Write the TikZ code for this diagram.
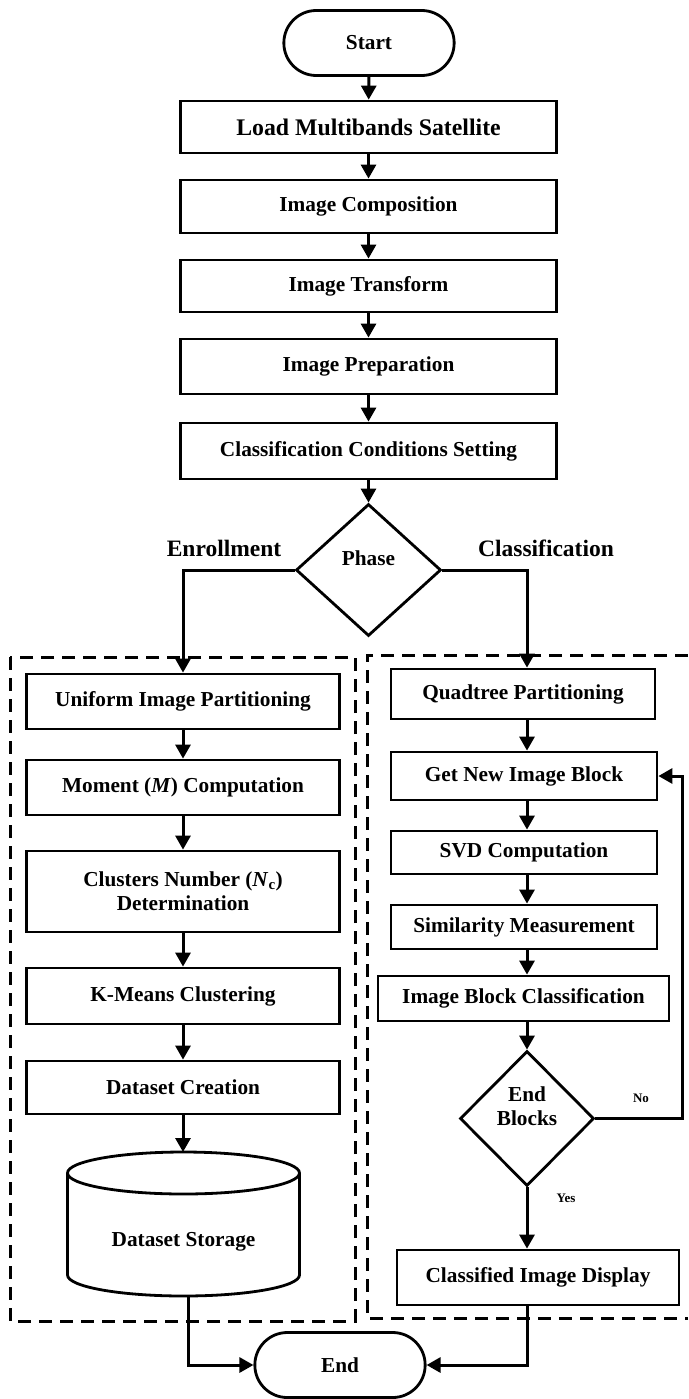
\documentclass[tikz,border=0pt]{standalone}
\usepackage{fontspec}
\setmainfont{Liberation Serif}
\usetikzlibrary{arrows.meta,shapes.geometric,shapes.misc}
\begin{document}
\begin{tikzpicture}[x=1pt,y=1pt,
  txt/.style={font=\bfseries\fontsize{21.3}{24}\selectfont, align=center},
  box/.style={txt, draw, line width=2.8pt, inner sep=2pt},
  term/.style={txt, draw, rounded rectangle, line width=2.8pt, minimum width=177pt, minimum height=65pt},
  dec/.style={draw, diamond, line width=2.8pt, inner sep=0pt},
  arr/.style={line width=3pt, -{Triangle[length=14pt,width=15pt]}},
  ln/.style={line width=3pt},
  dbox/.style={line width=3pt, dash pattern=on 13pt off 8pt},
  lbl/.style={font=\bfseries\fontsize{23.5}{26}\selectfont},
  sm/.style={font=\bfseries\fontsize{13}{15}\selectfont}]
\useasboundingbox (0,0) rectangle (688,-1399);

% dashed group frames
\draw[dbox] (10,-657) rectangle (355,-1321);
\draw[dbox] (688,-655) -- (367,-655) -- (367,-1318) -- (688,-1318);

% main chain
\node[term] (start) at (369,-43) {Start};
\node[box, minimum width=376pt, minimum height=52pt, font=\bfseries\fontsize{23.8}{26}\selectfont] (load) at (368.5,-127) {Load Multibands Satellite};
\node[box, minimum width=376pt, minimum height=53pt] (ic) at (368.5,-206.5) {Image Composition};
\node[box, minimum width=376pt, minimum height=52pt] (it) at (368.5,-286) {Image Transform};
\node[box, minimum width=376pt, minimum height=55pt] (ip) at (368.5,-366.5) {Image Preparation};
\node[box, minimum width=376pt, minimum height=56pt] (ccs) at (368.5,-451) {Classification Conditions Setting};
\node[dec, minimum width=145pt, minimum height=132pt] (phase) at (368.5,-570) {};
\node[txt] (phaset) at (368.5,-558) {Phase};
\node[lbl] (enr) at (224,-548) {Enrollment};
\node[lbl] (cls) at (546,-548) {Classification};

% enrollment column
\node[box, minimum width=313pt, minimum height=55pt] (uip) at (183,-701.5) {Uniform Image Partitioning};
\node[box, minimum width=313pt, minimum height=55pt] (mom) at (183,-787.5) {Moment (\textit{M}) Computation};
\node[box, minimum width=313pt, minimum height=81pt] (cn) at (183,-891.5) {Clusters Number (\textit{N}\textsubscript{c})\\Determination};
\node[box, minimum width=313pt, minimum height=56pt] (km) at (183,-996) {K-Means Clustering};
\node[box, minimum width=313pt, minimum height=53pt] (dc) at (183,-1087.5) {Dataset Creation};
\draw[line width=2.8pt] (67.5,-1173) -- (67.5,-1275) arc[start angle=180,end angle=360,x radius=116,y radius=21] -- (299.5,-1173);
\draw[line width=2.8pt] (183.5,-1173) ellipse[x radius=116, y radius=21];
\node[txt] (ds) at (183.5,-1242) {Dataset Storage};
\coordinate (dstop) at (183,-1152);
\coordinate (dsbot) at (188,-1296);

% classification column
\node[box, minimum width=264pt, minimum height=50pt] (qt) at (523,-694) {Quadtree Partitioning};
\node[box, minimum width=266pt, minimum height=48pt] (gnb) at (524,-776) {Get New Image Block};
\node[box, minimum width=266pt, minimum height=43pt] (svd) at (524,-852.5) {SVD Computation};
\node[box, minimum width=266pt, minimum height=44pt] (sim) at (524,-927) {Similarity Measurement};
\node[box, minimum width=291pt, minimum height=45pt] (ibc) at (523.5,-998.5) {Image Block Classification};
\node[dec, minimum width=134pt, minimum height=135pt] (eb) at (527,-1118.5) {};
\node[txt] (ebt) at (527,-1106) {End\\Blocks};
\node[box, minimum width=282pt, minimum height=55pt] (cid) at (538,-1277.5) {Classified Image Display};
\node[sm] (no) at (641,-1098) {No};
\node[sm] (yes) at (566,-1198) {Yes};
\coordinate (fb) at (682,-1118.5);

\node[term] (endn) at (340,-1365) {End};

% connectors: main chain
\draw[arr] (start) -- (load);
\draw[arr] (load) -- (ic);
\draw[arr] (ic) -- (it);
\draw[arr] (it) -- (ip);
\draw[arr] (ip) -- (ccs);
\draw[arr] (ccs) -- (phase);
\draw[arr] (phase.west) -| (uip.north);
\draw[arr] (phase.east) -| (qt.north -| eb.center);

% enrollment connectors
\draw[arr] (uip) -- (mom);
\draw[arr] (mom) -- (cn);
\draw[arr] (cn) -- (km);
\draw[arr] (km) -- (dc);
\draw[arr] (dc) -- (dstop);

% classification connectors
\draw[arr] (qt.south -| eb.center) -- (gnb.north -| eb.center);
\draw[arr] (gnb.south -| eb.center) -- (svd.north -| eb.center);
\draw[arr] (svd.south -| eb.center) -- (sim.north -| eb.center);
\draw[arr] (sim.south -| eb.center) -- (ibc.north -| eb.center);
\draw[arr] (ibc.south -| eb.center) -- (eb.north);
\draw[arr] (eb.south) -- (cid.north -| eb.center);
\draw[arr] (eb.east) -- (fb) |- (gnb.east);

% to end
\draw[arr] (dsbot) |- (endn.west);
\draw[arr] (cid.south -| eb.center) |- (endn.east);
\end{tikzpicture}
\end{document}
